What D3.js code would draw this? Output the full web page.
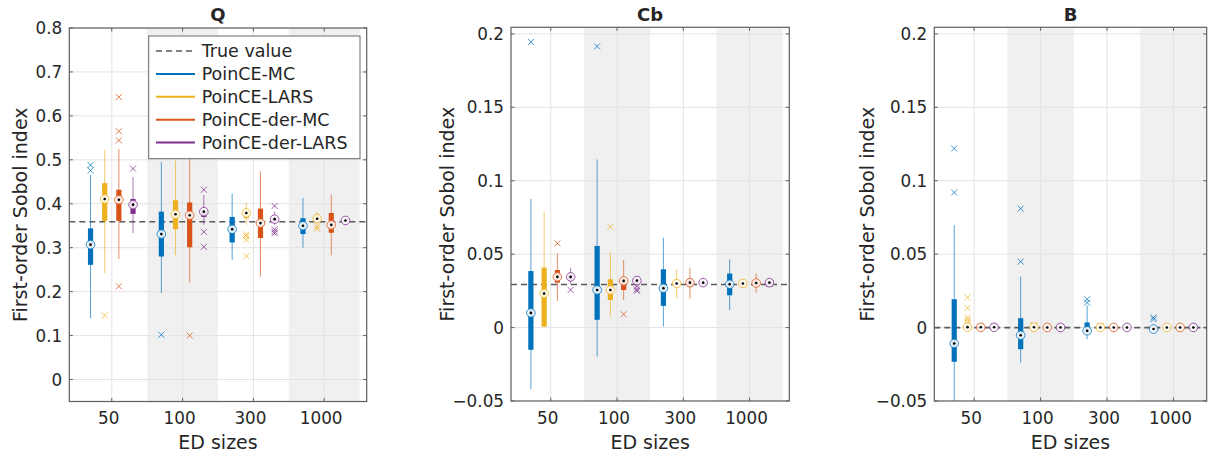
<!DOCTYPE html>
<html><head><meta charset="utf-8">
<script src="https://cdn.jsdelivr.net/npm/d3@7"></script>
<style>
body{margin:0;background:#fff}
svg{display:block}
text{font-family:"DejaVu Sans",sans-serif;fill:#262626}
</style>
</head><body>
<svg id="chart" width="1215" height="458"></svg>
<script>
// ---------------- data ----------------
const groupLabels = ["50", "100", "300", "1000"];
const methodNames = ["PoinCE-MC", "PoinCE-LARS", "PoinCE-der-MC", "PoinCE-der-LARS"];
const trueLabel = "True value";
const panelTitles = ["Q", "Cb", "B"];
const yAxisLabel = "First-order Sobol index";
const xAxisLabel = "ED sizes";
const trueValues = [0.359, 0.0293, 0];

const yTicksQ = [0, 0.1, 0.2, 0.3, 0.4, 0.5, 0.6, 0.7, 0.8];
const yTicksCb = [-0.05, 0, 0.05, 0.1, 0.15, 0.2];
const yTicksB = [-0.05, 0, 0.05, 0.1, 0.15, 0.2];

// [lower whisker, q1, median, q3, upper whisker], order: size group, then method
const statsQ = [
  [0.140, 0.261, 0.307, 0.344, 0.466], [0.242, 0.361, 0.411, 0.447, 0.523],
  [0.274, 0.361, 0.409, 0.432, 0.525], [0.333, 0.377, 0.398, 0.411, 0.461],
  [0.197, 0.280, 0.331, 0.382, 0.495], [0.283, 0.342, 0.376, 0.408, 0.498],
  [0.221, 0.301, 0.374, 0.403, 0.512], [0.352, 0.370, 0.382, 0.385, 0.420],
  [0.272, 0.312, 0.342, 0.370, 0.423], [0.352, 0.367, 0.379, 0.384, 0.403],
  [0.234, 0.322, 0.356, 0.389, 0.474], [0.352, 0.360, 0.365, 0.370, 0.382],
  [0.300, 0.331, 0.350, 0.367, 0.413], [0.352, 0.360, 0.366, 0.372, 0.382],
  [0.283, 0.334, 0.352, 0.379, 0.421], [0.358, 0.360, 0.362, 0.364, 0.366]
];
const outliersQ = [
  [0.476, 0.488], [0.146], [0.643, 0.565, 0.544, 0.212], [0.480],
  [0.102], [], [0.100], [0.432, 0.336, 0.302],
  [], [0.330, 0.326, 0.318, 0.281], [], [0.395, 0.342, 0.337, 0.333],
  [], [0.348, 0.343], [], []
];

const statsCb = [
  [-0.0419, -0.0151, 0.0100, 0.0385, 0.0877], [0.0000, 0.0007, 0.0232, 0.0408, 0.0791],
  [0.0182, 0.0306, 0.0345, 0.0392, 0.0506], [0.0295, 0.0320, 0.0345, 0.0360, 0.0408],
  [-0.0197, 0.0053, 0.0256, 0.0556, 0.1145], [0.0075, 0.0188, 0.0256, 0.0329, 0.0515],
  [0.0188, 0.0256, 0.0318, 0.0340, 0.0460], [0.0290, 0.0300, 0.0320, 0.0330, 0.0350],
  [0.0007, 0.0148, 0.0268, 0.0397, 0.0612], [0.0198, 0.0290, 0.0300, 0.0310, 0.0397],
  [0.0198, 0.0280, 0.0306, 0.0330, 0.0408], [0.0290, 0.0298, 0.0306, 0.0310, 0.0320],
  [0.0120, 0.0220, 0.0295, 0.0368, 0.0465], [0.0270, 0.0292, 0.0300, 0.0310, 0.0320],
  [0.0238, 0.0285, 0.0304, 0.0325, 0.0370], [0.0295, 0.0300, 0.0306, 0.0310, 0.0315]
];
const outliersCb = [
  [0.1945], [], [0.0574], [0.0256],
  [0.1915], [0.0687], [0.0091], [0.028, 0.026, 0.025],
  [], [], [], [],
  [], [], [], [0.0302, 0.0310, 0.0298]
];

const statsB = [
  [-0.0600, -0.0233, -0.0108, 0.0193, 0.0698], [-0.0005, 0.0000, 0.0003, 0.0008, 0.0012],
  [-0.0005, 0.0000, 0.0002, 0.0004, 0.0006], [-0.0005, 0.0000, 0.0002, 0.0004, 0.0006],
  [-0.0237, -0.0147, -0.0052, 0.0064, 0.0347], [-0.0003, 0.0000, 0.0002, 0.0004, 0.0006],
  [-0.0003, 0.0000, 0.0001, 0.0003, 0.0005], [-0.0003, 0.0000, 0.0001, 0.0003, 0.0005],
  [-0.0079, -0.0040, -0.0022, 0.0035, 0.0152], [-0.0003, 0.0000, 0.0001, 0.0003, 0.0005],
  [-0.0002, 0.0000, 0.0001, 0.0002, 0.0003], [-0.0002, 0.0000, 0.0001, 0.0002, 0.0003],
  [-0.0012, -0.0011, -0.0010, -0.0009, -0.0008], [-0.0002, 0.0000, 0.0001, 0.0002, 0.0003],
  [-0.0002, 0.0000, 0.0001, 0.0002, 0.0003], [-0.0002, 0.0000, 0.0001, 0.0002, 0.0003]
];
const outliersB = [
  [0.122, 0.092], [0.0205, 0.0132, 0.0068, 0.0052, 0.0034, 0.0016], [0.0008], [0.0008],
  [0.081, 0.0449], [0.0012, 0.0018], [0.0005], [0.0005],
  [0.0193, 0.0170], [0.0008, 0.0012], [], [],
  [0.0069, 0.0057], [], [], [0.0004]
];

// ---------------- layout & style ----------------
const methodColors = ["#0072BD", "#EDB120", "#D95319", "#7E2F8E"];
const panels = [
  {left: 69.3, right: 366.7, top: 28, bottom: 401.5, xMax: 20.5, yDom: [-0.05, 0.8],
   ticks: yTicksQ, stats: statsQ, outliers: outliersQ, ylabX: 20, legend: true},
  {left: 511, right: 789.3, top: 27.3, bottom: 401, xMax: 20.5, yDom: [-0.05, 0.2045],
   ticks: yTicksCb, stats: statsCb, outliers: outliersCb, ylabX: 447, legend: false},
  {left: 934.3, right: 1206.7, top: 27.3, bottom: 401, xMax: 20, yDom: [-0.05, 0.2045],
   ticks: yTicksB, stats: statsB, outliers: outliersB, ylabX: 867, legend: false}
];

const svg = d3.select("#chart");
const fmt = v => (Math.abs(v) < 1e-12 ? "0" : d3.format("~g")(v));

panels.forEach((P, pi) => {
  const x = d3.scaleLinear().domain([-0.5, P.xMax]).range([P.left, P.right]);
  const y = d3.scaleLinear().domain(P.yDom).range([P.bottom, P.top]);
  const g = svg.append("g");
  const clipId = "clip" + pi;
  g.append("clipPath").attr("id", clipId).append("rect")
    .attr("x", P.left).attr("y", P.top).attr("width", P.right - P.left).attr("height", P.bottom - P.top);
  const body = g.append("g").attr("clip-path", `url(#${clipId})`);

  // shaded groups
  groupLabels.forEach((lab, gi) => {
    if (gi % 2 === 1) {
      body.append("rect").attr("x", x(gi * 5)).attr("y", P.top)
        .attr("width", x(gi * 5 + 5) - x(gi * 5)).attr("height", P.bottom - P.top)
        .attr("fill", "#f0f0f0");
    }
  });

  // grid
  const xTickPos = groupLabels.map((d, gi) => gi * 5 + 2.5);
  body.selectAll(".gx").data(xTickPos).enter().append("line")
    .attr("x1", d => x(d)).attr("x2", d => x(d)).attr("y1", P.top).attr("y2", P.bottom)
    .attr("stroke", "#e3e3e3").attr("stroke-width", 1);
  body.selectAll(".gy").data(P.ticks).enter().append("line")
    .attr("x1", P.left).attr("x2", P.right).attr("y1", d => y(d)).attr("y2", d => y(d))
    .attr("stroke", "#e3e3e3").attr("stroke-width", 1);

  // true value
  body.append("line").attr("x1", P.left).attr("x2", P.right)
    .attr("y1", y(trueValues[pi])).attr("y2", y(trueValues[pi]))
    .attr("stroke", "#5a5a5a").attr("stroke-width", 1.6).attr("stroke-dasharray", "6,4");

  // boxes
  P.stats.forEach((s, i) => {
    const gi = Math.floor(i / 4), m = i % 4;
    const cx = x(gi * 5 + m + 1);
    const col = methodColors[m];
    body.append("line").attr("x1", cx).attr("x2", cx).attr("y1", y(s[0])).attr("y2", y(s[4]))
      .attr("stroke", col).attr("stroke-width", 1).attr("stroke-opacity", 0.65);
    body.append("rect").attr("x", cx - 2.6).attr("width", 5.2)
      .attr("y", y(s[3])).attr("height", Math.max(0.5, y(s[1]) - y(s[3])))
      .attr("fill", col);
    P.outliers[i].forEach(o => {
      const ox = cx, oy = y(o), r = 3;
      body.append("path").attr("d", `M${ox - r},${oy - r}L${ox + r},${oy + r}M${ox - r},${oy + r}L${ox + r},${oy - r}`)
        .attr("stroke", col).attr("stroke-width", 1).attr("stroke-opacity", 0.75).attr("fill", "none");
    });
    body.append("circle").attr("cx", cx).attr("cy", y(s[2])).attr("r", 4.3)
      .attr("fill", "#fff").attr("fill-opacity", 0.85).attr("stroke", col).attr("stroke-width", 1).attr("stroke-opacity", 0.8);
    body.append("circle").attr("cx", cx).attr("cy", y(s[2])).attr("r", 1.3).attr("fill", "#000");
  });

  // frame
  g.append("rect").attr("x", P.left).attr("y", P.top).attr("width", P.right - P.left)
    .attr("height", P.bottom - P.top).attr("fill", "none").attr("stroke", "#5e5e5e").attr("stroke-width", 1.2);

  // ticks (inward, both sides)
  const tl = 3.5;
  P.ticks.forEach(t => {
    g.append("line").attr("x1", P.left).attr("x2", P.left + tl).attr("y1", y(t)).attr("y2", y(t)).attr("stroke", "#5e5e5e");
    g.append("line").attr("x1", P.right).attr("x2", P.right - tl).attr("y1", y(t)).attr("y2", y(t)).attr("stroke", "#5e5e5e");
  });
  xTickPos.forEach(t => {
    g.append("line").attr("x1", x(t)).attr("x2", x(t)).attr("y1", P.bottom).attr("y2", P.bottom - tl).attr("stroke", "#5e5e5e");
    g.append("line").attr("x1", x(t)).attr("x2", x(t)).attr("y1", P.top).attr("y2", P.top + tl).attr("stroke", "#5e5e5e");
  });

  // tick labels
  g.selectAll(".yl").data(P.ticks).enter().append("text")
    .attr("x", P.left - 7).attr("y", d => y(d)).attr("dy", "0.36em")
    .attr("text-anchor", "end").attr("font-size", 16.8).text(fmt);
  g.selectAll(".xl").data(groupLabels).enter().append("text")
    .attr("x", (d, gi) => x(gi * 5 + 2.5) - 3).attr("y", 424)
    .attr("text-anchor", "middle").attr("font-size", 16.8).text(d => d);

  // axis labels & title
  g.append("text").attr("x", (P.left + P.right) / 2).attr("y", 449)
    .attr("text-anchor", "middle").attr("font-size", 19).text(xAxisLabel);
  g.append("text").attr("transform", `translate(${P.ylabX},${(P.top + P.bottom) / 2}) rotate(-90)`)
    .attr("dy", "0.36em").attr("text-anchor", "middle").attr("font-size", 19).text(yAxisLabel);
  g.append("text").attr("x", (P.left + P.right) / 2).attr("y", 21)
    .attr("text-anchor", "middle").attr("font-size", 18).attr("font-weight", "bold").attr("fill", "#000").text(panelTitles[pi]);

  // legend
  if (P.legend) {
    const L = g.append("g");
    const lx = 148.7, ly = 36, lw = 211.3, lh = 122.7;
    L.append("rect").attr("x", lx).attr("y", ly).attr("width", lw).attr("height", lh)
      .attr("fill", "#fff").attr("stroke", "#6a6a6a").attr("stroke-width", 1);
    const items = [{name: trueLabel, color: "#5a5a5a", dash: "6,4"}]
      .concat(methodNames.map((n, k) => ({name: n, color: methodColors[k], dash: null})));
    items.forEach((it, k) => {
      const ry = 51 + k * 22.9;
      const ln = L.append("line").attr("x1", 156).attr("x2", 195).attr("y1", ry).attr("y2", ry)
        .attr("stroke", it.color).attr("stroke-width", it.dash ? 1.6 : 2);
      if (it.dash) ln.attr("stroke-dasharray", it.dash);
      L.append("text").attr("x", 201.7).attr("y", ry).attr("dy", "0.36em")
        .attr("font-size", 17.5).text(it.name);
    });
  }
});
</script>
</body></html>
